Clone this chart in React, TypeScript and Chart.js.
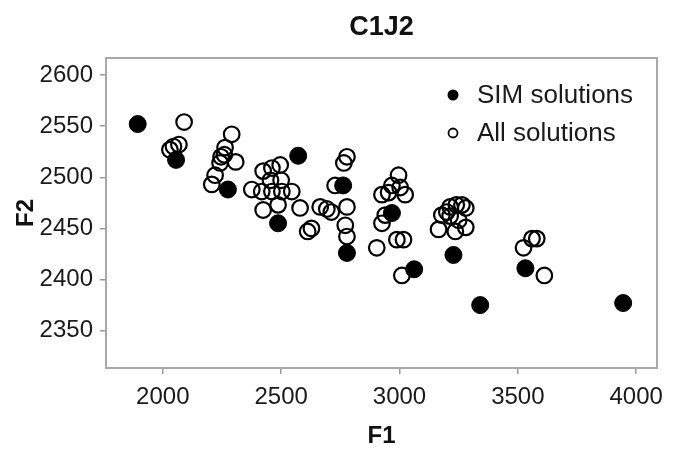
import React, { useEffect, useRef } from "react";
import { Chart, registerables } from "chart.js";

Chart.register(...registerables);

// ---- data ----
const chartTitle = "C1J2";
const xAxisTitle = "F1";
const yAxisTitle = "F2";
const seriesLabels = ["SIM solutions", "All solutions"];

const xTicks = [2000, 2500, 3000, 3500, 4000];
const yTicks = [2350, 2400, 2450, 2500, 2550, 2600];

const simF1 = [1894, 2056, 2275, 2572, 2487, 2762, 2778, 2968, 3062, 3228, 3341, 3532, 3945];
const simF2 = [2552, 2517, 2488, 2521, 2455, 2492, 2426, 2465, 2410, 2424, 2375, 2411, 2377];

const allF1 = [
  2090, 2030, 2045, 2068,
  2291, 2263, 2246, 2308, 2242, 2260, 2221, 2207,
  2376, 2418, 2424, 2461, 2496, 2461, 2503, 2545, 2424, 2487, 2455, 2500,
  2580, 2612, 2628,
  2778, 2765, 2728, 2665, 2693, 2712, 2778, 2771, 2778,
  2996, 2968, 3003, 2926, 2954, 3024, 2926, 2940, 2989, 3017, 2904, 3010,
  3214, 3240, 3264, 3280, 3179, 3214, 3200, 3250, 3165, 3236, 3280,
  3560, 3580, 3524, 3612,
];
const allF2 = [
  2554, 2527, 2530, 2532,
  2542, 2529, 2520, 2515, 2514, 2522, 2502, 2493,
  2488, 2486, 2506, 2509, 2512, 2486, 2486, 2486, 2468, 2473, 2497, 2497,
  2470, 2447, 2450,
  2520, 2514, 2492, 2471, 2469, 2466, 2471, 2453, 2442,
  2502, 2492, 2490, 2483, 2485, 2483, 2455, 2463, 2439, 2439, 2431, 2404,
  2471, 2473, 2473, 2470, 2463, 2462, 2466, 2458, 2449, 2447, 2451,
  2440, 2440, 2431, 2404,
];

const xMin = 1760;
const xMax = 4088;
const yMin = 2313.5;
const yMax = 2616.6;

const FONT = "'Liberation Sans', Arial, Helvetica, sans-serif";

const boxPlugin = {
  id: "rBox",
  afterDatasetsDraw(chart: any) {
    const { ctx, chartArea } = chart;
    const { left, top, right, bottom } = chartArea;
    ctx.save();
    ctx.strokeStyle = "#a8a8a8";
    ctx.lineWidth = 2;
    ctx.strokeRect(left, top, right - left, bottom - top);
    ctx.restore();
  },
};

const legendPlugin = {
  id: "rLegend",
  afterDraw(chart: any) {
    const { ctx, chartArea } = chart;
    const baseX = chartArea.left + 347;
    const baseY = chartArea.top + 37;
    ctx.save();
    chart.data.datasets.forEach((ds: any, i: number) => {
      const y = baseY + i * 38;
      ctx.beginPath();
      if (i === 0) {
        ctx.fillStyle = "#000";
        ctx.arc(baseX, y, 5.5, 0, Math.PI * 2);
        ctx.fill();
      } else {
        ctx.strokeStyle = "#000";
        ctx.lineWidth = 1.8;
        ctx.arc(baseX, y, 4.5, 0, Math.PI * 2);
        ctx.stroke();
      }
      ctx.fillStyle = "#1a1a1a";
      ctx.font = `26px ${FONT}`;
      ctx.textAlign = "left";
      ctx.textBaseline = "middle";
      ctx.fillText(ds.label, baseX + 24, y + 1);
    });
    ctx.restore();
  },
};

export default function App() {
  const canvasRef = useRef<HTMLCanvasElement | null>(null);

  useEffect(() => {
    if (!canvasRef.current) return;
    const chart = new Chart(canvasRef.current, {
      type: "scatter",
      data: {
        datasets: [
          {
            label: seriesLabels[0],
            data: simF1.map((x, i) => ({ x, y: simF2[i] })),
            backgroundColor: "#000",
            borderColor: "#000",
            borderWidth: 1,
            pointRadius: 8.5,
            order: 0,
          },
          {
            label: seriesLabels[1],
            data: allF1.map((x, i) => ({ x, y: allF2[i] })),
            backgroundColor: "rgba(0,0,0,0)",
            borderColor: "#000",
            borderWidth: 2.2,
            pointRadius: 7.8,
            order: 1,
          },
        ],
      },
      options: {
        responsive: false,
        animation: false,
        events: [],
        layout: { padding: { left: 0, right: 20, top: 0, bottom: 0 } },
        plugins: {
          legend: { display: false },
          tooltip: { enabled: false },
          title: {
            display: true,
            text: chartTitle,
            fullSize: false,
            color: "#111",
            font: { family: FONT, size: 27, weight: "bold" },
            padding: { top: 11, bottom: 14.6 },
          },
        },
        scales: {
          x: {
            type: "linear",
            min: xMin,
            max: xMax,
            afterBuildTicks: (s: any) => {
              s.ticks = xTicks.map((v) => ({ value: v }));
            },
            afterFit: (s: any) => {
              s.height = 98;
            },
            border: { display: false },
            grid: {
              drawOnChartArea: false,
              drawTicks: true,
              tickLength: 6,
              color: "#999",
              lineWidth: 1.5,
            },
            ticks: {
              color: "#1a1a1a",
              font: { family: FONT, size: 24 },
              padding: 9,
              maxRotation: 0,
              autoSkip: false,
              callback: (v: any) => String(v),
            },
            title: {
              display: true,
              text: xAxisTitle,
              color: "#111",
              font: { family: FONT, size: 24, weight: "bold" },
              padding: { top: 0, bottom: 15.6 },
            },
          },
          y: {
            type: "linear",
            min: yMin,
            max: yMax,
            afterBuildTicks: (s: any) => {
              s.ticks = yTicks.map((v) => ({ value: v }));
            },
            afterFit: (s: any) => {
              s.width = 106;
            },
            border: { display: false },
            grid: {
              drawOnChartArea: false,
              drawTicks: true,
              tickLength: 6,
              color: "#999",
              lineWidth: 1.5,
            },
            ticks: {
              color: "#1a1a1a",
              font: { family: FONT, size: 24 },
              padding: 7,
              autoSkip: false,
              callback: (v: any) => String(v),
            },
            title: {
              display: true,
              text: yAxisTitle,
              color: "#111",
              font: { family: FONT, size: 24, weight: "bold" },
              padding: { top: 12, bottom: 0 },
            },
          },
        },
      },
      plugins: [boxPlugin, legendPlugin],
    } as any);
    return () => chart.destroy();
  }, []);

  return (
    <div style={{ position: "absolute", left: 0, top: 0, width: 677, height: 466, background: "#fff" }}>
      <canvas ref={canvasRef} width={677} height={466} />
    </div>
  );
}
